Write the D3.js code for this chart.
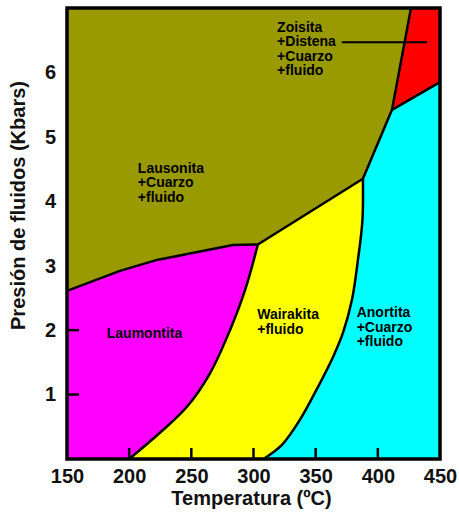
<!DOCTYPE html>
<html>
<head>
<meta charset="utf-8">
<script src="https://cdn.jsdelivr.net/npm/d3@7"></script>
<style>
  body { margin: 0; background: #fff; }
  text { font-family: "Liberation Sans", Arial, sans-serif; font-weight: bold; }
</style>
</head>
<body>
<script>
// ticks
var xTicks = [150, 200, 250, 300, 350, 400, 450];
var xTickMarks = [200, 250, 300, 350, 400];
var yTicks = [1, 2, 3, 4, 5, 6];
var yTickMarks = [1, 2];

// phase boundaries, [T (ºC), P (Kbars)]
var lausLaum = [[150, 2.61], [192.6, 2.92], [222.4, 3.09], [283.5, 3.32], [303.5, 3.33]];
var laumWair = [[303.5, 3.33], [293.2, 2.62], [281.1, 2.0], [265, 1.33], [246.5, 0.81], [227.2, 0.45], [200, 0]];
var lausWair = [[303.5, 3.33], [388, 4.35]];
var wairAnor = [[388, 4.35], [387.6, 3.7], [384, 3.09], [379.2, 2.47], [372, 1.96], [363.9, 1.58], [351.9, 1.12], [337.4, 0.61], [322.9, 0.22], [308, 0]];
var lausAnor = [[388, 4.35], [411.4, 5.42]];
var lausZois = [[411.4, 5.42], [426.7, 7.0]];
var zoisAnor = [[411.4, 5.42], [450, 5.85]];

// field labels
var fieldLabels = [
  {t: 207, p: 4.44, lines: ["Lausonita", "+Cuarzo", "+fluido"]},
  {t: 319, p: 6.63, lines: ["Zoisita", "+Distena", "+Cuarzo", "+fluido"]},
  {t: 182, p: 1.88, lines: ["Laumontita"]},
  {t: 303, p: 2.17, lines: ["Wairakita", "+fluido"]},
  {t: 383, p: 2.20, lines: ["Anortita", "+Cuarzo", "+fluido"]}
];
var leader = [[371, 6.47], [439.5, 6.47]];

var W = 459, H = 515;
var margin = {top: 8, right: 19, bottom: 56, left: 67};
var width = W - margin.left - margin.right,
    height = H - margin.top - margin.bottom;

var svg = d3.select("body").append("svg")
    .attr("width", W)
    .attr("height", H)
  .append("g")
    .attr("transform", "translate(" + margin.left + "," + margin.top + ")");

var x = d3.scaleLinear().domain([150, 450]).range([0, width]);
var y = d3.scaleLinear().domain([0, 7]).range([height, 0]);

var curved = d3.line()
    .x(function(d) { return x(d[0]); })
    .y(function(d) { return y(d[1]); })
    .curve(d3.curveCatmullRom.alpha(0.5));
var straight = d3.line()
    .x(function(d) { return x(d[0]); })
    .y(function(d) { return y(d[1]); });

var rev = function(a) { return a.slice().reverse(); };

// the two reaction curves are smooth, the rest are polylines
var isCurved = function(pts) { return pts === laumWair || pts === wairAnor; };
var pathOf = function(pts, backwards) {
  var p = backwards ? rev(pts) : pts;
  return isCurved(pts) ? curved(p) : straight(p);
};

// join several boundary pieces into one closed outline
var outline = function(pieces) {
  return pieces.map(function(p, i) {
    var s = p.rev ? pathOf(p.pts, true) : pathOf(p);
    return i == 0 ? s : "L" + s.slice(1);
  }).join("") + "Z";
};

// olive background = lausonita field
svg.append("rect")
    .attr("x", x(150)).attr("y", y(7))
    .attr("width", x(450) - x(150)).attr("height", y(0) - y(7))
    .attr("fill", "#999900");

var fields = [
  {color: "#ff00ff", pieces: [[[150, 0], [150, 2.61]], lausLaum, laumWair]},
  {color: "#ffff00", pieces: [{rev: true, pts: laumWair}, lausWair, wairAnor]},
  {color: "#00ffff", pieces: [{rev: true, pts: wairAnor}, lausAnor, zoisAnor, [[450, 5.85], [450, 0]]]},
  {color: "#ff0000", pieces: [lausZois, [[426.7, 7], [450, 7], [450, 5.85]], {rev: true, pts: zoisAnor}]}
];

svg.selectAll(".field")
    .data(fields)
  .enter().append("path")
    .attr("class", "field")
    .attr("d", function(d) { return outline(d.pieces); })
    .attr("fill", function(d) { return d.color; })
    .attr("stroke", "none");

// boundary lines
svg.selectAll(".bound")
    .data([lausLaum, laumWair, lausWair, wairAnor, lausAnor, lausZois, zoisAnor])
  .enter().append("path")
    .attr("class", "bound")
    .attr("d", function(d) { return pathOf(d); })
    .attr("fill", "none")
    .attr("stroke", "#000")
    .attr("stroke-width", 2.5)
    .attr("stroke-linejoin", "round");

svg.append("path")
    .attr("d", straight(leader))
    .attr("stroke", "#000")
    .attr("stroke-width", 2);

// field labels
fieldLabels.forEach(function(l) {
  var t = svg.append("text")
      .attr("x", x(l.t))
      .attr("y", y(l.p))
      .style("font-size", "14px")
      .attr("fill", "#000");
  l.lines.forEach(function(s, i) {
    t.append("tspan")
        .attr("x", x(l.t))
        .attr("dy", i == 0 ? 0 : 14.5)
        .text(s);
  });
});

// tick marks (inside)
svg.selectAll(".xtm")
    .data(xTickMarks)
  .enter().append("line")
    .attr("x1", function(d) { return x(d); }).attr("x2", function(d) { return x(d); })
    .attr("y1", height).attr("y2", height - 11)
    .attr("stroke", "#000").attr("stroke-width", 2.5);

svg.selectAll(".ytm")
    .data(yTickMarks)
  .enter().append("line")
    .attr("x1", 0).attr("x2", 12)
    .attr("y1", function(d) { return y(d); }).attr("y2", function(d) { return y(d); })
    .attr("stroke", "#000").attr("stroke-width", 2.5);

// frame
svg.append("rect")
    .attr("x", 0).attr("y", 0)
    .attr("width", width).attr("height", height)
    .attr("fill", "none")
    .attr("stroke", "#000")
    .attr("stroke-width", 3.5);

// axes (labels only)
var xAxis = svg.append("g")
    .attr("transform", "translate(0," + height + ")")
    .call(d3.axisBottom(x).tickValues(xTicks).tickSize(0).tickPadding(10).tickFormat(d3.format("d")));
xAxis.select(".domain").remove();
xAxis.selectAll("text")
    .style("font-size", "20px")
    .style("font-family", "'Liberation Sans', Arial, sans-serif")
    .style("font-weight", "bold")
    .attr("fill", "#111");

var yAxis = svg.append("g")
    .call(d3.axisLeft(y).tickValues(yTicks).tickSize(0).tickPadding(11).tickFormat(d3.format("d")));
yAxis.select(".domain").remove();
yAxis.selectAll("text")
    .style("font-size", "20px")
    .style("font-family", "'Liberation Sans', Arial, sans-serif")
    .style("font-weight", "bold")
    .attr("fill", "#111");

svg.append("text")
    .attr("x", width / 2 - 2)
    .attr("y", height + 46)
    .style("text-anchor", "middle")
    .style("font-size", "20px")
    .attr("fill", "#111")
    .text("Temperatura (ºC)");

svg.append("text")
    .attr("transform", "rotate(-90)")
    .attr("x", -(height / 2) + 28)
    .attr("y", -margin.left + 25)
    .style("text-anchor", "middle")
    .style("font-size", "20px")
    .attr("fill", "#111")
    .text("Presión de fluidos (Kbars)");
</script>
</body>
</html>
